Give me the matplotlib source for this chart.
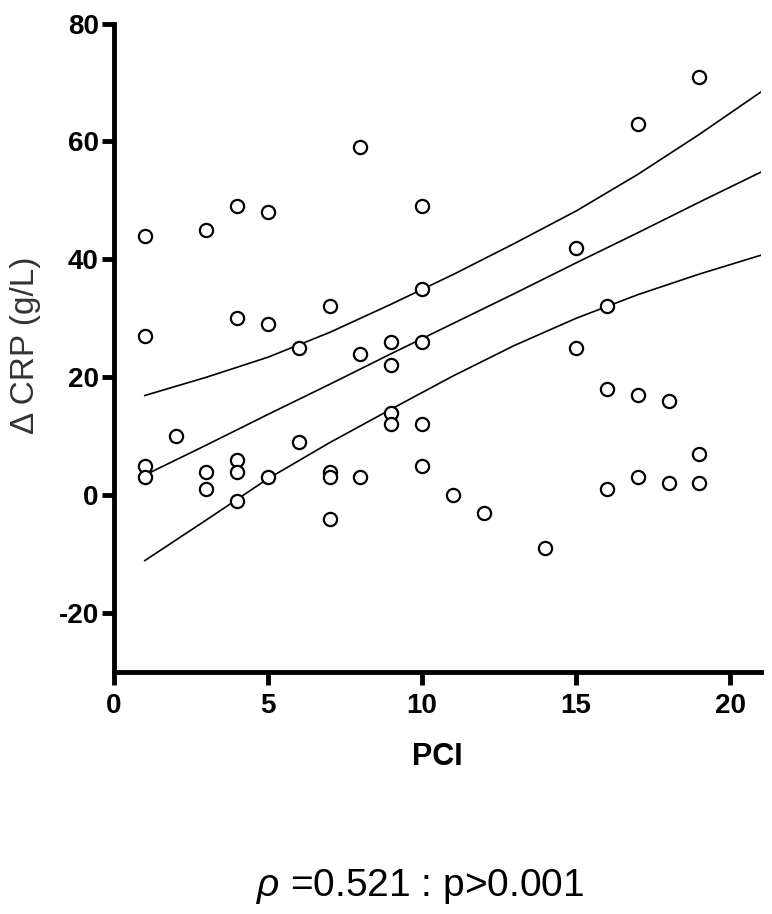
import numpy as np
import matplotlib
matplotlib.use('Agg')
import matplotlib.pyplot as plt

# PCI vs delta CRP, one point per patient
pci = [1, 1, 1, 1, 2, 3, 3, 3, 4, 4, 4, 4, 4, 5, 5, 5, 6, 6, 7, 7,
       7, 7, 8, 8, 8, 9, 9, 9, 9, 10, 10, 10, 10, 10, 11, 12, 14, 15, 15, 16,
       16, 16, 17, 17, 17, 18, 18, 19, 19, 19]
crp = [44, 27, 5, 3, 10, 45, 4, 1, 49, 30, 6, 4, -1, 48, 29, 3, 25, 9, 32, 4,
       3, -4, 59, 24, 3, 26, 22, 14, 12, 49, 35, 26, 12, 5, 0, -3, -9, 42, 25, 32,
       18, 1, 63, 17, 3, 16, 2, 71, 7, 2]

# regression line and 95% band
band_x = [1, 3, 5, 7, 9, 11, 13, 15, 17, 19, 21]
fit_y = [3.4, 8.5, 13.7, 18.8, 24.0, 29.1, 34.2, 39.4, 44.5, 49.7, 54.8]
upper_y = [16.9, 20.0, 23.4, 27.6, 32.4, 37.4, 42.7, 48.2, 54.4, 61.2, 68.4]
lower_y = [-11.1, -4.2, 2.8, 8.9, 14.6, 20.2, 25.4, 30.0, 34.0, 37.5, 40.7]

xticks = [0, 5, 10, 15, 20]
yticks = [-20, 0, 20, 40, 60, 80]

plt.rcParams['font.family'] = ['Liberation Sans', 'DejaVu Sans']
plt.rcParams['mathtext.fontset'] = 'custom'
plt.rcParams['mathtext.it'] = 'Liberation Sans:italic'
plt.rcParams['axes.unicode_minus'] = False

fig = plt.figure(figsize=(7.72, 9.14), dpi=100)
W, H = 772, 914
ax = fig.add_axes([114 / W, 1 - 672 / H, (761 - 114) / W, (672 - 23.5) / H])

ax.plot(pci, crp, 'o', ms=9.5, mfc='white', mec='black', mew=1.6, zorder=3)
for ys in (upper_y, fit_y, lower_y):
    ax.plot(band_x, ys, color='black', lw=1.2, zorder=2)

ax.set_xlim(0, 21)
ax.set_ylim(-30, 80)
ax.set_xticks(xticks)
ax.set_yticks(yticks)
for s in ('top', 'right'):
    ax.spines[s].set_visible(False)
for s in ('left', 'bottom'):
    ax.spines[s].set_linewidth(3.5)
ax.tick_params(direction='out', length=9, width=3.5, labelsize=20)
ax.tick_params(axis='x', pad=6)
ax.tick_params(axis='y', pad=2)
for lab in ax.get_xticklabels() + ax.get_yticklabels():
    lab.set_fontweight('bold')

fig.text(437 / W, 1 - 757 / H, 'PCI', ha='center', va='center',
         fontsize=22, fontweight='bold')
fig.text(26 / W, 1 - 345 / H, 'Δ CRP (g/L)', ha='center', va='center',
         rotation=90, fontsize=24, color='#333333')
fig.text(420 / W, 1 - 886 / H, r'$\rho$ =0.521 : p>0.001', ha='center',
         va='center', fontsize=28)

fig.savefig('out.png', dpi=100)
